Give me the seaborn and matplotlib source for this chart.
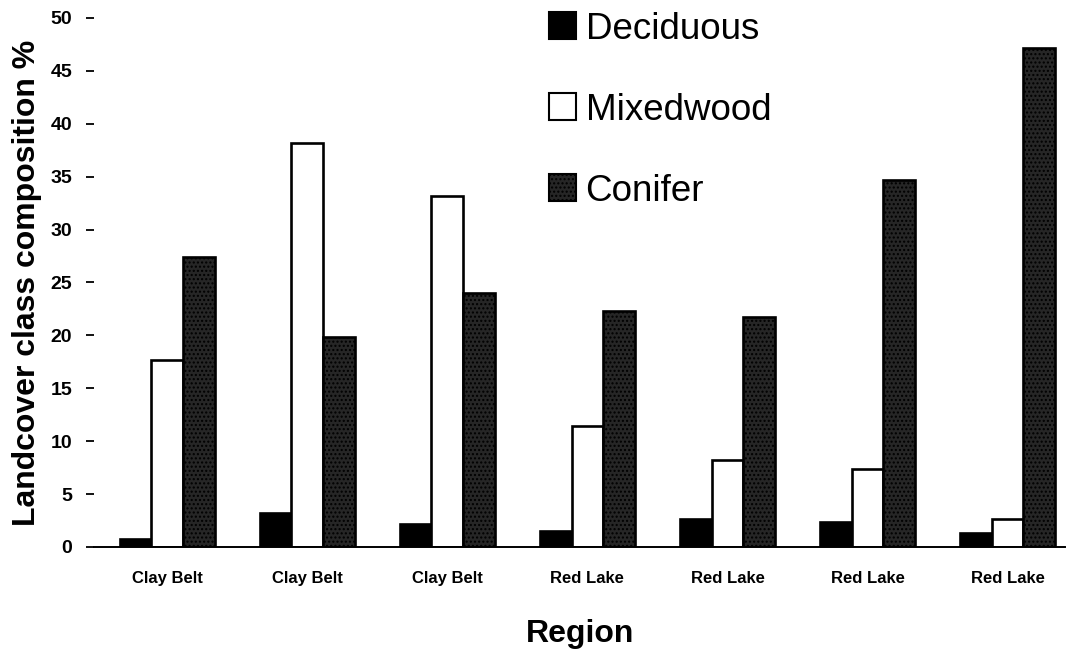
import matplotlib
matplotlib.use("Agg")
import matplotlib.pyplot as plt
import seaborn as sns
import pandas as pd

regions = ["Clay Belt", "Clay Belt", "Clay Belt", "Red Lake", "Red Lake", "Red Lake", "Red Lake"]
series = ["Deciduous", "Mixedwood", "Conifer"]
deciduous = [0.8, 3.25, 2.2, 1.5, 2.65, 2.35, 1.3]
mixedwood = [17.7, 38.2, 33.2, 11.4, 8.2, 7.4, 2.6]
conifer = [27.4, 19.8, 24.0, 22.3, 21.7, 34.7, 47.2]
yticks = [0, 5, 10, 15, 20, 25, 30, 35, 40, 45, 50]

site_ids = [f"s{i}" for i in range(len(regions))]
rows = []
for i, sid in enumerate(site_ids):
    for name, vals in zip(series, [deciduous, mixedwood, conifer]):
        rows.append({"site": sid, "cls": name, "value": vals[i]})
df = pd.DataFrame(rows)

sns.set_style("white")
plt.rcParams["font.family"] = ["Liberation Sans", "DejaVu Sans"]
plt.rcParams["text.color"] = "black"
plt.rcParams["axes.labelcolor"] = "black"
plt.rcParams["xtick.color"] = "black"
plt.rcParams["ytick.color"] = "black"

fig = plt.figure(figsize=(10.73, 6.49), dpi=100)
ax = fig.add_axes([0.088, 0.1572, 0.9045, 0.8151])

palette = {"Deciduous": "#000000", "Mixedwood": "#ffffff", "Conifer": "#262626"}
sns.barplot(data=df, x="site", y="value", hue="cls", hue_order=series,
            order=site_ids, palette=palette, width=0.68, gap=0,
            edgecolor="black", linewidth=1.9, saturation=1, ax=ax, legend=True)

def stipple(p):
    p.set_hatch("....")
    if hasattr(p, "set_hatchcolor"):
        p.set_hatchcolor("#c4c4c4")

for p in ax.containers[2]:
    stipple(p)

ax.set_xlim(-0.52, 6.41)
ax.set_ylim(0, 50)
ax.set_yticks(yticks)
ax.set_yticklabels([str(t) for t in yticks], fontsize=14, fontweight="bold")
ax.set_xticks(range(len(regions)))
ax.set_xticklabels(regions, fontsize=12, fontweight="bold")

for s in ["top", "right", "left"]:
    ax.spines[s].set_visible(False)
ax.spines["bottom"].set_color("black")
ax.spines["bottom"].set_linewidth(1.4)
ax.tick_params(axis="y", direction="out", length=6, width=1.3, pad=10, left=True)
ax.tick_params(axis="x", length=0, pad=17)

ax.set_ylabel("Landcover class composition %", fontsize=23, fontweight="bold", labelpad=6)
ax.set_xlabel("Region", fontsize=23, fontweight="bold", labelpad=24)

handles, labels = ax.get_legend_handles_labels()
leg = ax.legend(handles, labels, loc="upper left", bbox_to_anchor=(0.453, 1.04),
                frameon=False, fontsize=26.5, handlelength=0.75, handleheight=0.75,
                handletextpad=0.25, labelspacing=1.25, borderaxespad=0)
for h in leg.legend_handles:
    h.set_edgecolor("black")
    h.set_linewidth(1.5)
stipple(leg.legend_handles[2])

fig.savefig("out.png", dpi=100)
